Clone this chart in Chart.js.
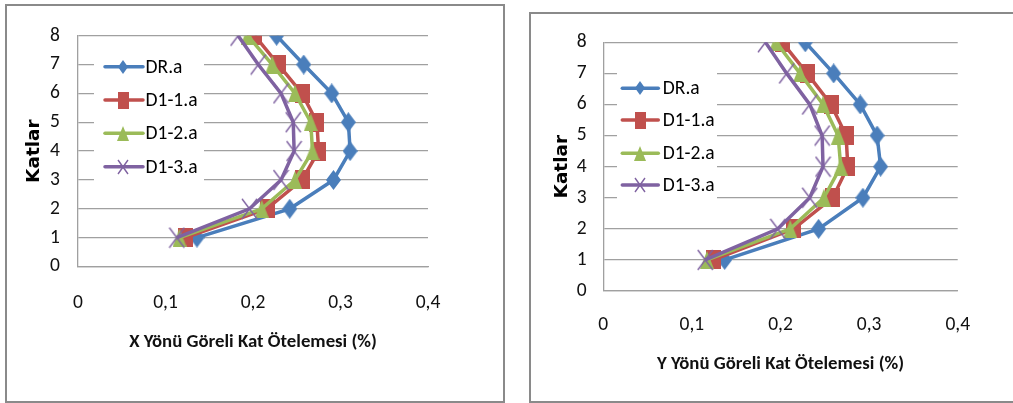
<!DOCTYPE html>
<html>
<head>
<meta charset="utf-8">
<script src="https://cdn.jsdelivr.net/npm/chart.js@4/dist/chart.umd.min.js"></script>
<style>
  html, body { margin: 0; padding: 0; background: #fff; overflow: hidden; width: 1013px; height: 403px; }
  .box { position: absolute; border: 2px solid #8a8a8a; background: #fff; }
  #boxX { left: 5px; top: 4px; width: 496px; height: 395px; }
  #boxY { left: 529px; top: 12px; width: 520px; height: 387px; }
  canvas { display: block; }
</style>
</head>
<body>
<div class="box" id="boxX"><canvas id="chartX" width="496" height="395"></canvas></div>
<div class="box" id="boxY"><canvas id="chartY" width="481" height="387"></canvas></div>
<script>
const katlar = [1, 2, 3, 4, 5, 6, 7, 8];
const xTicks = [0, 0.1, 0.2, 0.3, 0.4];
const seriesNames = ['DR.a', 'D1-1.a', 'D1-2.a', 'D1-3.a'];

// X yönü
const xDR  = [0.136, 0.242, 0.292, 0.311, 0.309, 0.290, 0.258, 0.227];
const xD11 = [0.123, 0.216, 0.256, 0.275, 0.273, 0.256, 0.229, 0.202];
const xD12 = [0.116, 0.210, 0.248, 0.268, 0.266, 0.248, 0.222, 0.194];
const xD13 = [0.113, 0.196, 0.232, 0.247, 0.246, 0.232, 0.206, 0.183];

// Y yönü
const yDR  = [0.137, 0.243, 0.293, 0.313, 0.309, 0.290, 0.260, 0.228];
const yD11 = [0.124, 0.215, 0.259, 0.276, 0.274, 0.257, 0.230, 0.202];
const yD12 = [0.117, 0.211, 0.249, 0.268, 0.265, 0.248, 0.222, 0.195];
const yD13 = [0.115, 0.197, 0.233, 0.248, 0.247, 0.233, 0.207, 0.183];

const colors = ['#4a7ebb', '#c0504d', '#9bbb59', '#7f62a1'];
const shapes = ['diamond', 'square', 'triangle', 'cross'];

const textFont = "Carlito, 'Liberation Sans', sans-serif";

// markers in the original are a bit taller than wide, so draw them on small canvases
function marker(shape, color, w, h) {
    const c = document.createElement('canvas');
    c.width = w; c.height = h;
    const g = c.getContext('2d');
    g.fillStyle = color;
    g.strokeStyle = color;
    g.beginPath();
    if (shape === 'diamond') {
        g.moveTo(w / 2, 0); g.lineTo(w, h / 2); g.lineTo(w / 2, h); g.lineTo(0, h / 2);
        g.closePath(); g.fill();
    } else if (shape === 'square') {
        g.fillRect(0, 0, w, h);
    } else if (shape === 'triangle') {
        g.moveTo(w / 2, 0); g.lineTo(w, h); g.lineTo(0, h);
        g.closePath(); g.fill();
    } else {
        g.lineWidth = 1.4;
        g.moveTo(1, 1); g.lineTo(w - 1, h - 1);
        g.moveTo(w - 1, 1); g.lineTo(1, h - 1);
        g.stroke();
    }
    return c;
}

const pointSizes = [[15, 20], [15, 19], [14, 18], [17, 22]];
const legendSizes = [[10, 14], [11, 17], [12, 15], [12, 16]];

const boxLegend = {
    id: 'boxLegend',
    afterDraw(chart, args, opts) {
        const ctx = chart.ctx;
        ctx.save();
        ctx.fillStyle = '#fff';
        ctx.fillRect(opts.box[0], opts.box[1], opts.box[2], opts.box[3]);
        chart.data.datasets.forEach((ds, i) => {
            const y = opts.rows[i];
            ctx.strokeStyle = ds.borderColor;
            ctx.lineWidth = ds.borderWidth;
            ctx.lineCap = 'round';
            ctx.beginPath();
            ctx.moveTo(opts.x1, y);
            ctx.lineTo(opts.x2, y);
            ctx.stroke();
            const m = ds.legendMarker;
            ctx.drawImage(m, Math.round(opts.mx - m.width / 2), Math.round(y - m.height / 2));
            ctx.fillStyle = '#000';
            ctx.font = '19.5px ' + textFont;
            ctx.textBaseline = 'middle';
            ctx.fillText(ds.label, opts.tx, y + 1);
        });
        ctx.restore();
    }
};

function makeChart(id, series, title, L) {
    const datasets = series.map((vals, i) => ({
        label: seriesNames[i],
        data: katlar.map((k, j) => ({ x: vals[j], y: k })),
        showLine: true,
        borderColor: colors[i],
        backgroundColor: colors[i],
        borderWidth: 3.5,
        pointStyle: marker(shapes[i], colors[i], pointSizes[i][0], pointSizes[i][1]),
        legendMarker: marker(shapes[i], colors[i], legendSizes[i][0], legendSizes[i][1]),
        pointRadius: 8,
        order: 4 - i
    }));

    return new Chart(document.getElementById(id), {
        type: 'scatter',
        data: { datasets },
        plugins: [boxLegend],
        options: {
            responsive: false,
            animation: false,
            devicePixelRatio: 1,
            layout: { padding: { left: L.padL, top: L.padT, right: L.padR, bottom: L.padB } },
            plugins: {
                legend: { display: false },
                tooltip: { enabled: false },
                boxLegend: L.legend
            },
            scales: {
                x: {
                    type: 'linear',
                    min: 0, max: 0.4,
                    afterBuildTicks: s => { s.ticks = xTicks.map(v => ({ value: v })); },
                    afterFit: s => { s.height = L.xHeight; },
                    grid: { display: false, drawTicks: false },
                    border: { display: true, color: '#a0a0a0', width: 1.3 },
                    ticks: {
                        padding: L.xTickPad,
                        maxRotation: 0, minRotation: 0,
                        color: '#111',
                        font: { family: textFont, size: 19.5 },
                        callback: v => v === 0 ? '0' : v.toFixed(1).replace('.', ',')
                    },
                    title: {
                        display: true,
                        text: title,
                        color: '#111',
                        font: { family: textFont, size: 18.8, weight: 'bold' },
                        padding: { top: 0, bottom: 0 }
                    }
                },
                y: {
                    type: 'linear',
                    min: 0, max: 8,
                    afterFit: s => { s.width = L.yWidth; },
                    ticks: {
                        stepSize: 1,
                        autoSkip: false,
                        padding: L.yTickPad,
                        color: '#111',
                        font: { family: textFont, size: 19.5 }
                    },
                    grid: { color: '#a0a0a0', lineWidth: 1.3, drawTicks: false },
                    border: { display: true, color: '#a0a0a0', width: 1.3 },
                    title: {
                        display: true,
                        text: 'Katlar',
                        color: '#000',
                        font: { family: "'DejaVu Sans', sans-serif", size: 18.5, weight: 'bold' },
                        padding: { top: 0, bottom: 0 }
                    }
                }
            }
        }
    });
}

makeChart('chartX', [xDR, xD11, xD12, xD13], 'X Yönü Göreli Kat Ötelemesi (%)', {
    padL: 16, padT: 26, padR: 75, padB: 47.8,
    yWidth: 55, yTickPad: 18, xHeight: 86.7, xTickPad: 24.5,
    legend: { box: [87, 39, 110, 146], x1: 98, x2: 136, mx: 116, tx: 138.5, rows: [60.7, 94, 127.3, 160.7] }
});

makeChart('chartY', [yDR, yD11, yD12, yD13], 'Y Yönü Göreli Kat Ötelemesi (%)', {
    padL: 19.6, padT: 28.3, padR: 54.3, padB: 25.8,
    yWidth: 52.7, yTickPad: 16.6, xHeight: 84.2, xTickPad: 22,
    legend: { box: [86, 41, 100, 150], x1: 91.3, x2: 127.3, mx: 109, tx: 131.7, rows: [74.3, 106, 139.3, 171] }
});
</script>
</body>
</html>
